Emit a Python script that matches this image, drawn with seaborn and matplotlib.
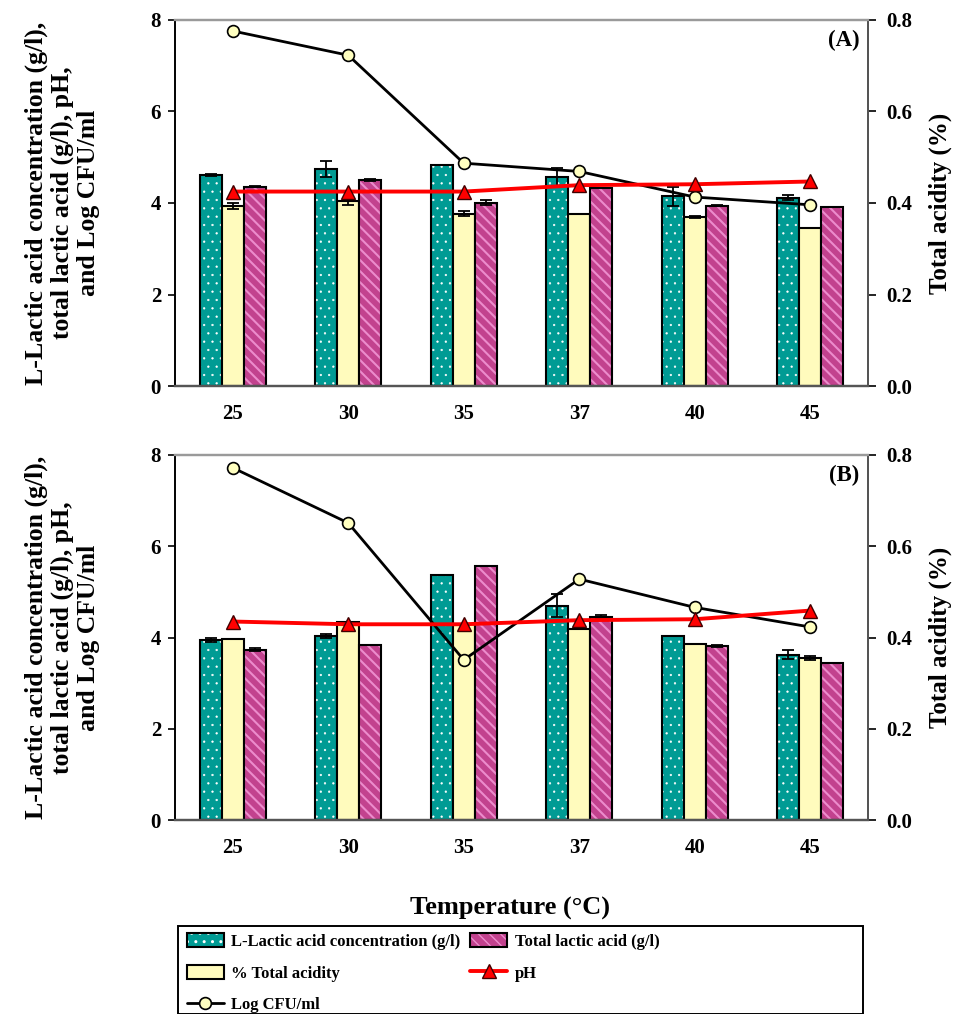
import matplotlib
matplotlib.use("Agg")
import matplotlib.pyplot as plt
from matplotlib.colors import to_rgba
from matplotlib.patches import Rectangle
from matplotlib.lines import Line2D
import numpy as np
import pandas as pd
import seaborn as sns

# ---- data ---------------------------------------------------------------
temps = ["25", "30", "35", "37", "40", "45"]

# Panel A
a_llactic = [4.61, 4.74, 4.82, 4.57, 4.15, 4.12]
a_llactic_err = [0.03, 0.17, 0.0, 0.19, 0.21, 0.05]
a_acidity = [0.393, 0.404, 0.377, 0.377, 0.370, 0.346]
a_acidity_err = [0.006, 0.008, 0.005, 0.0, 0.002, 0.0]
a_total = [4.36, 4.50, 4.01, 4.32, 3.94, 3.91]
a_total_err = [0.02, 0.02, 0.05, 0.0, 0.01, 0.0]
a_ph = [4.25, 4.25, 4.25, 4.39, 4.41, 4.47]
a_logcfu = [7.76, 7.23, 4.87, 4.69, 4.13, 3.96]

# Panel B
b_llactic = [3.94, 4.04, 5.37, 4.70, 4.04, 3.62]
b_llactic_err = [0.04, 0.04, 0.0, 0.26, 0.0, 0.10]
b_acidity = [0.397, 0.435, 0.430, 0.418, 0.386, 0.355]
b_acidity_err = [0.0, 0.0, 0.0, 0.0, 0.0, 0.005]
b_total = [3.73, 3.83, 5.57, 4.46, 3.82, 3.44]
b_total_err = [0.03, 0.0, 0.0, 0.03, 0.02, 0.0]
b_ph = [4.35, 4.29, 4.29, 4.38, 4.40, 4.59]
b_logcfu = [7.72, 6.51, 3.51, 5.28, 4.66, 4.23]

series_names = ["L-Lactic acid concentration (g/l)", "% Total acidity",
                "Total lactic acid (g/l)"]
LEFT_MAX, RIGHT_MAX = 8, 0.8

# ---- style ---------------------------------------------------------------
sns.set_style("white")
plt.rcParams["font.family"] = ["Liberation Serif", "DejaVu Serif"]
plt.rcParams["font.weight"] = "bold"
plt.rcParams["axes.labelweight"] = "bold"
for key in ("text.color", "axes.labelcolor", "xtick.color", "ytick.color"):
    plt.rcParams[key] = "black"

TEAL = "#009b94"
CREAM = "#fffbbd"
PINK = "#c2428e"
STRIPE = "#ec8ccc"

fig = plt.figure(figsize=(9.54, 10.14), dpi=100)
W, H = 954, 1014


def px_axes(left, top, right, bottom):
    return fig.add_axes([left / W, 1 - bottom / H, (right - left) / W,
                         (bottom - top) / H])


def style_hatch(patch, hatch, color, lw):
    patch.set_hatch(hatch)
    if hasattr(patch, "set_hatchcolor"):
        patch.set_hatchcolor(color)
    else:
        patch._hatch_color = to_rgba(color)
    if hasattr(patch, "set_hatch_linewidth"):
        patch.set_hatch_linewidth(lw)
    else:
        patch._hatch_linewidth = lw


def draw_panel(ax, llactic, llactic_err, acidity, acidity_err, total,
               total_err, ph, logcfu, letter):
    scale = LEFT_MAX / RIGHT_MAX
    df = pd.DataFrame({
        "Temperature": temps * 3,
        "Series": [series_names[0]] * 6 + [series_names[1]] * 6
                  + [series_names[2]] * 6,
        "Value": list(llactic) + [v * scale for v in acidity] + list(total),
    })
    sns.barplot(data=df, x="Temperature", y="Value", hue="Series",
                hue_order=series_names, palette=[TEAL, CREAM, PINK],
                order=temps, width=0.57, saturation=1, edgecolor="black",
                linewidth=1.5, errorbar=None, legend=False, ax=ax, zorder=2)

    errs = [llactic_err, [e * scale for e in acidity_err], total_err]
    vals = [llactic, [v * scale for v in acidity], total]
    hatches = [("..", "white", 0.4), None, ("\\\\\\", STRIPE, 1.5)]
    for cont, ev, vv, hs in zip(ax.containers, errs, vals, hatches):
        xs = [p.get_x() + p.get_width() / 2 for p in cont.patches]
        if hs:
            for p in cont.patches:
                style_hatch(p, *hs)
        ax.errorbar(xs, vv, yerr=ev, fmt="none", ecolor="black",
                    elinewidth=1.3, capsize=4.3, capthick=1.3, zorder=3)

    sns.pointplot(x=temps, y=logcfu, order=temps, color="black",
                  marker="o", markersize=8.5, linewidth=2.0,
                  markerfacecolor="#ffffc0", markeredgecolor="black",
                  markeredgewidth=1.2, errorbar=None, ax=ax, zorder=5)
    sns.pointplot(x=temps, y=ph, order=temps, color="red",
                  marker="^", markersize=9.5, linewidth=2.8,
                  markerfacecolor="red", markeredgecolor="#400000",
                  markeredgewidth=1.0, errorbar=None, ax=ax, zorder=6)

    ax.set_xlim(-0.5, 5.5)
    ax.set_ylim(0, LEFT_MAX)
    ax.set_yticks([0, 2, 4, 6, 8])
    ax.set_xlabel("")
    ax.tick_params(axis="x", length=0, pad=13, labelsize=15)
    ax.tick_params(axis="y", direction="out", length=5, width=1.2, pad=5,
                   labelsize=15, left=True)
    for lab in ax.get_xticklabels() + ax.get_yticklabels():
        lab.set_fontweight("bold")

    ax.set_ylabel("L-Lactic acid concentration (g/l),\n"
                  "total lactic acid (g/l), pH,\nand Log CFU/ml",
                  fontsize=18.5, fontweight="bold", linespacing=1.15)
    ax.yaxis.label.set(ha="center", va="center", multialignment="center")
    ax.yaxis.set_label_coords(-0.163, 0.5)

    ax2 = ax.twinx()
    ax2.set_ylim(0, RIGHT_MAX)
    ax2.set_yticks([0.0, 0.2, 0.4, 0.6, 0.8])
    ax2.set_yticklabels([f"{t:.1f}" for t in [0.0, 0.2, 0.4, 0.6, 0.8]],
                        fontweight="bold")
    ax2.tick_params(axis="y", direction="out", length=6, width=1.2, pad=7,
                    labelsize=15, right=True)
    ax2.set_ylabel("Total acidity (%)", fontsize=18, fontweight="bold")
    ax2.yaxis.label.set(ha="center", va="center")
    ax2.yaxis.set_label_coords(1.105, 0.5)
    ax2.grid(False)

    for a in (ax, ax2):
        a.spines["top"].set_color("#9a9a9a")
        a.spines["top"].set_linewidth(1.6)
        a.spines["left"].set_color("black")
        a.spines["left"].set_linewidth(1.2)
        a.spines["bottom"].set_color("#555555")
        a.spines["bottom"].set_linewidth(1.6)
        a.spines["right"].set_color("#555555")
        a.spines["right"].set_linewidth(1.4)

    ax.text(0.988, 0.972, letter, transform=ax.transAxes, ha="right",
            va="top", fontsize=16.5, fontweight="bold")
    ax.grid(False)
    return ax2


axA = px_axes(175, 20, 868, 386)
axB = px_axes(175, 455, 868, 820)
draw_panel(axA, a_llactic, a_llactic_err, a_acidity, a_acidity_err, a_total,
           a_total_err, a_ph, a_logcfu, "(A)")
draw_panel(axB, b_llactic, b_llactic_err, b_acidity, b_acidity_err, b_total,
           b_total_err, b_ph, b_logcfu, "(B)")

axB.set_xlabel("Temperature (\u00b0C)", fontsize=19, fontweight="bold")
axB.xaxis.label.set(va="center")
axB.xaxis.set_label_coords(0.483, -0.241)

# ---- legend ---------------------------------------------------------------
h_llactic = axA.containers[0].patches[0]
h_acid = axA.containers[1].patches[0]
h_total = axA.containers[2].patches[0]
h_cfu = Line2D([], [], color="black", lw=2.0, marker="o", markersize=8.5,
               markerfacecolor="#ffffc0", markeredgecolor="black",
               markeredgewidth=1.2)
h_ph = Line2D([], [], color="red", lw=2.8, marker="^", markersize=9.5,
              markerfacecolor="red", markeredgecolor="#400000",
              markeredgewidth=1.0)
handles = [h_llactic, h_acid, h_cfu, h_total, h_ph]
labels = [series_names[0], series_names[1], "Log CFU/ml",
          series_names[2], "pH"]
leg = fig.legend(handles, labels, ncol=2, loc="upper left",
                 bbox_to_anchor=(187 / W, 1 - 933 / H), frameon=False,
                 prop={"family": "Liberation Serif", "weight": "bold",
                       "size": 12},
                 handlelength=2.2, handleheight=0.95, handletextpad=0.45,
                 columnspacing=0.6, labelspacing=0.88, borderaxespad=0,
                 borderpad=0)
fig.add_artist(Rectangle((178 / W, 0), (863 - 178) / W, (H - 926) / H,
                         transform=fig.transFigure, fill=False,
                         edgecolor="black", linewidth=1.4))

fig.savefig("out.png", dpi=100)
